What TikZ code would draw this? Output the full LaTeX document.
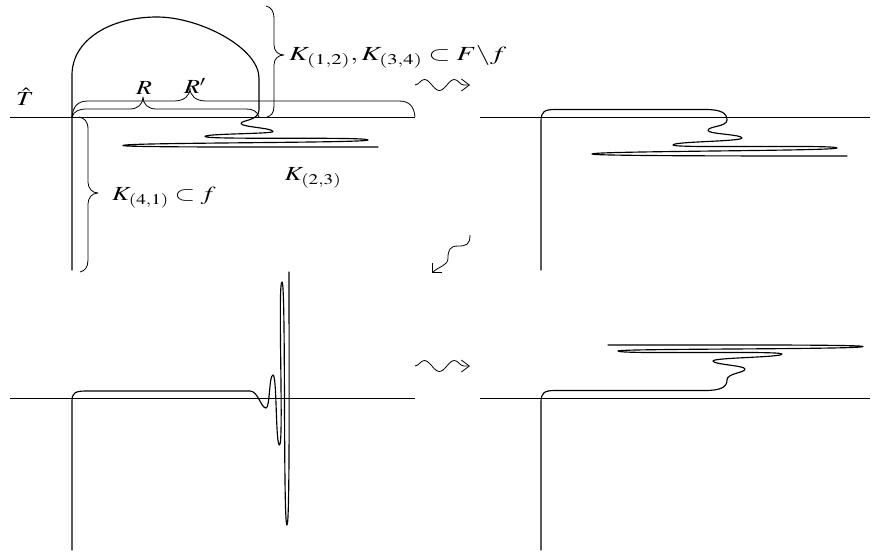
\documentclass[tikz,border=0pt]{standalone}
\usepackage{mathptmx}
\usepackage{graphicx}
\usetikzlibrary{decorations.pathmorphing,arrows.meta}
\newcommand{\wtext}[2][1.3]{\scalebox{#1}[1]{#2}}
\begin{document}
\begin{tikzpicture}[x=1pt,y=-1pt,
  axis/.style={line width=0.8pt},
  curve/.style={line width=1.15pt, line join=round, line cap=round},
  bracepath/.style={line width=0.8pt, line join=round},
  lbl/.style={inner sep=0pt, font=\fontsize{20}{24}\selectfont},
  squig/.style={line width=0.8pt, decorate, decoration={snake, segment length=30pt, amplitude=5.5pt, post length=5pt}, -{Straight Barb[length=8pt,width=12pt]}},
  bentarrow/.style={line width=0.8pt, -{Straight Barb[length=7pt,width=14pt]}},
]
\useasboundingbox (0,0) rectangle (873,554);

% base lines
\draw[axis] (10,117) -- (415,117);
\draw[axis] (480,117) -- (870,117);
\draw[axis] (10,398) -- (415,398);
\draw[axis] (480,398) -- (870,398);

% panel 1 curve
\draw[curve] (72,270) -- (72,75) .. controls (72,40) and (110,17) .. (157,17)
  .. controls (200,17) and (259,48) .. (259,78) -- (259,110)
  .. controls (259,121) and (241,120) .. (241,123.5)
  .. controls (241,127) and (273,128) .. (273,131.5)
  .. controls (273,134) and (205,133.5) .. (205,136.5)
  .. controls (205,140) and (368,136.5) .. (368,140)
  .. controls (368,143) and (123,142.5) .. (123,145.5)
  .. controls (123,147.5) and (300,147) .. (378,147);

% panel 2 curve
\draw[curve] (541,270) -- (541,121) .. controls (541,112) and (544,109.5) .. (555,109.5)
  -- (705,109.5) .. controls (721,109.5) and (727,113) .. (727,120)
  .. controls (727,127) and (708,126) .. (708,130.5)
  .. controls (708,134) and (742,134.5) .. (742,138)
  .. controls (742,141.5) and (673,141.5) .. (673,145)
  .. controls (673,148.5) and (837,144.5) .. (837,148)
  .. controls (837,151) and (592,151) .. (592,154)
  .. controls (592,156) and (760,156) .. (847,156);

% panel 3 curve
\draw[curve] (72,550) -- (72,401) .. controls (72,393) and (75,391) .. (86,391)
  -- (250,391) .. controls (258,391) and (261,408) .. (266,408)
  .. controls (270,408) and (269,375) .. (273,375)
  .. controls (277,375) and (275.5,445) .. (279.5,445)
  .. controls (284,445) and (277.5,282) .. (282,282)
  .. controls (286,282) and (283,525) .. (287,525)
  .. controls (290,525) and (289,350) .. (289,272);

% panel 4 curve
\draw[curve] (541,550) -- (541,402) .. controls (541,393) and (544,390.5) .. (555,390.5)
  -- (705,390.5) .. controls (721,390.5) and (727,387) .. (727,380)
  .. controls (727,373) and (745,373) .. (745,369)
  .. controls (745,365.5) and (713,364.5) .. (713,361)
  .. controls (713,357.5) and (782,357.5) .. (782,354)
  .. controls (782,350.5) and (618,354.5) .. (618,351)
  .. controls (618,348.5) and (863,349.5) .. (863,346.5)
  .. controls (863,344.5) and (700,345) .. (608,345);

% braces
\draw[bracepath] (72,117) .. controls (73,106) and (78,101) .. (88,101) -- (174,101)
  .. controls (184,101) and (190,96) .. (190,88)
  .. controls (190,96) and (196,101) .. (206,101) -- (399,101)
  .. controls (409,101) and (414,106) .. (415,117);
\draw[bracepath] (72,117) .. controls (74,111) and (79,109) .. (87,109) -- (130,109)
  .. controls (138,109) and (143,104) .. (143,97)
  .. controls (143,104) and (148,109) .. (156,109) -- (246,109)
  .. controls (253,109) and (257,111) .. (259,117);
\draw[bracepath] (266,6) .. controls (271,7) and (274,11) .. (274,19) -- (274,45)
  .. controls (274,51) and (278,55) .. (284,55)
  .. controls (278,55) and (274,59) .. (274,65) -- (274,106)
  .. controls (274,113) and (271,116) .. (267,117);
\draw[bracepath] (79,117) .. controls (84,118) and (88,121) .. (88,129) -- (88,182)
  .. controls (88,188) and (92,193) .. (98,193)
  .. controls (92,193) and (88,198) .. (88,204) -- (88,260)
  .. controls (88,267) and (85,271) .. (80,272);

% labels
\node[lbl] (that) at (25,97) {\wtext{$\hat{T}$}};
\node[lbl] (rr) at (144,88) {\wtext{$R$}};
\node[lbl] (rp) at (195,86) {\wtext{$R'$}};
\node[lbl, anchor=west] (k12) at (289,57) {\wtext[1.4]{$K_{(1,2)}, K_{(3,4)} \subset F\backslash f$}};
\node[lbl] (k23) at (313,178) {\wtext{$K_{(2,3)}$}};
\node[lbl, anchor=west] (k41) at (112,198) {\wtext{$K_{(4,1)} \subset f$}};

% arrows between panels
\coordinate (a1s) at (415,85); \coordinate (a1e) at (470,85);
\coordinate (a2s) at (470,235); \coordinate (a2e) at (432,273);
\coordinate (a3s) at (415,366); \coordinate (a3e) at (470,366);
\draw[squig] (a1s) -- (a1e);
\draw[squig] (a3s) -- (a3e);
\draw[bentarrow] (a2s) .. controls (470,245) and (466,246) .. (458,246)
  .. controls (450,246) and (448,250) .. (448,258)
  .. controls (448,266) and (439,266) .. (a2e);
\end{tikzpicture}
\end{document}
